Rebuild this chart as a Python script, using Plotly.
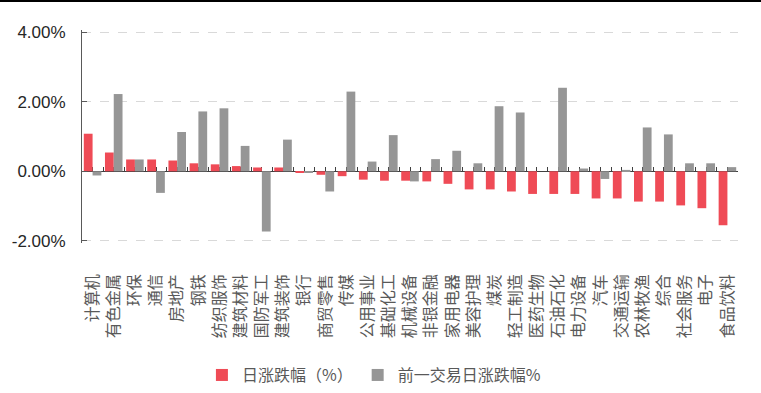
import plotly.graph_objects as go

categories = ["计算机", "有色金属", "环保", "通信", "房地产", "钢铁", "纺织服饰", "建筑材料",
              "国防军工", "建筑装饰", "银行", "商贸零售", "传媒", "公用事业", "基础化工",
              "机械设备", "非银金融", "家用电器", "美容护理", "煤炭", "轻工制造", "医药生物",
              "石油石化", "电力设备", "汽车", "交通运输", "农林牧渔", "综合", "社会服务",
              "电子", "食品饮料"]

daily_change = [1.08, 0.54, 0.34, 0.34, 0.31, 0.23, 0.20, 0.15,
                0.11, 0.11, -0.03, -0.10, -0.14, -0.24, -0.27,
                -0.27, -0.29, -0.36, -0.52, -0.52, -0.58, -0.65,
                -0.65, -0.65, -0.78, -0.78, -0.87, -0.87, -0.98,
                -1.06, -1.55]

prev_change = [-0.12, 2.22, 0.34, -0.62, 1.13, 1.72, 1.81, 0.73,
               -1.73, 0.91, -0.04, -0.58, 2.29, 0.28, 1.04,
               -0.29, 0.35, 0.59, 0.23, 1.87, 1.69, 0.00,
               2.40, 0.08, -0.22, 0.04, 1.26, 1.06, 0.23,
               0.23, 0.12]

y_ticks = [-2, 0, 2, 4]
series_names = ["日涨跌幅（%）", "前一交易日涨跌幅%"]

RED = "#EF4B56"
GRAY = "#969696"

fig = go.Figure()
fig.add_trace(go.Bar(x=categories, y=daily_change, name=series_names[0],
                     marker=dict(color=RED, line=dict(width=0))))
fig.add_trace(go.Bar(x=categories, y=prev_change, name=series_names[1],
                     marker=dict(color=GRAY, line=dict(width=0))))
# invisible helper trace so the zero-line tick axis is rendered
fig.add_trace(go.Scatter(x=list(range(len(categories))), y=[0] * len(categories),
                         xaxis="x2", yaxis="y", mode="markers",
                         marker=dict(opacity=0), showlegend=False, hoverinfo="skip"))

n = len(categories)
T, B = 30, 150
PLOT_H = 393 - T - B
pad = 0.06
y_lo, y_hi = y_ticks[0] - pad, y_ticks[-1] + pad
fig.update_layout(
    width=761, height=393,
    margin=dict(l=82, r=23, t=T, b=B, autoexpand=False),
    paper_bgcolor="white", plot_bgcolor="white",
    barmode="group", bargap=0.17, bargroupgap=0.0,
    font=dict(family="Noto Sans CJK SC, Noto Sans, sans-serif", color="#595959"),
    xaxis=dict(type="category", range=[-0.5, n - 0.5], showline=False, ticks="",
               showgrid=False, zeroline=False, tickangle=-90, automargin=False,
               tickfont=dict(size=16, color="#595959",
                             family="Noto Sans CJK SC, sans-serif"),
               ticklabelstandoff=27),
    xaxis2=dict(overlaying="x", anchor="free", position=(0 - y_lo) / (y_hi - y_lo),
                range=[-0.5, n - 0.5], tickmode="linear", tick0=-0.5, dtick=0.5,
                ticks="inside", ticklen=4, tickcolor="#404040", tickwidth=1,
                showticklabels=False, showline=True, linecolor="#404040", linewidth=1,
                showgrid=False, zeroline=False, layer="below traces", side="bottom",
                automargin=False),
    yaxis=dict(range=[y_lo, y_hi], tickvals=y_ticks,
               ticktext=[f"{v:.2f}%" for v in y_ticks], automargin=False,
               showgrid=True, gridcolor="#D9D9D9", griddash="dash", gridwidth=1,
               zeroline=False, showline=True, linecolor="#595959", linewidth=1,
               ticks="inside", ticklen=5, tickcolor="#595959",
               tickfont=dict(size=17, color="#262626", family="Liberation Sans, Arial, sans-serif"),
               ticklabelstandoff=12),
    legend=dict(orientation="h", x=0.445, xanchor="center", y=-0.62, yanchor="middle",
                font=dict(size=16, color="#595959"), itemwidth=30,
                traceorder="normal", bgcolor="rgba(0,0,0,0)"),
    shapes=[dict(type="line", xref="paper", yref="paper",
                 x0=-0.2, x1=1.2, y0=1 + (T - 1) / PLOT_H, y1=1 + (T - 1) / PLOT_H,
                 line=dict(color="black", width=2))],
    showlegend=True,
)

fig.write_html("out.html", config={"displayModeBar": False},
               post_script="document.body.style.margin='0';document.body.style.overflow='hidden';")
